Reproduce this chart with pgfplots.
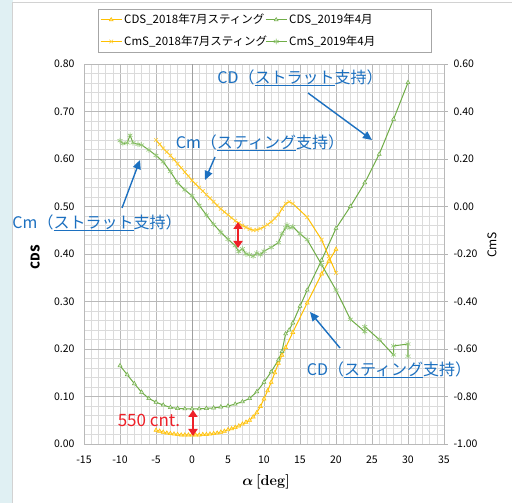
\documentclass[border=0pt]{standalone}
\usepackage{pgfplots}
\pgfplotsset{compat=1.18}
\usepackage{fontspec}
\setmainfont{Noto Sans CJK JP}
\usetikzlibrary{arrows.meta}
\definecolor{cy}{RGB}{255,192,0}
\definecolor{cyl}{RGB}{255,224,130}
\definecolor{cg}{RGB}{112,173,71}
\definecolor{cgl}{RGB}{150,200,120}
\definecolor{cblue}{RGB}{28,112,192}
\definecolor{cred}{RGB}{238,32,40}
\definecolor{bgc}{RGB}{224,240,243}
\newcommand\ul[1]{\setbox0\hbox{#1}\rlap{\raisebox{-3pt}{\rule{\wd0}{1.4pt}}}\box0}

\pgfplotstableread{
x y
-5 0.029
-4.5 0.027
-4 0.025
-3.5 0.023
-3 0.022
-2.5 0.021
-2 0.020
-1.5 0.019
-1 0.019
-0.5 0.019
0 0.019
0.5 0.019
1 0.019
1.5 0.020
2 0.020
2.5 0.021
3 0.022
3.5 0.023
4 0.025
4.5 0.027
5 0.030
5.5 0.032
6 0.035
6.5 0.038
7 0.042
7.5 0.046
8 0.050
8.5 0.057
9 0.066
9.5 0.079
10 0.095
10.5 0.112
11 0.130
11.5 0.150
12 0.170
12.5 0.187
13 0.203
14 0.235
16 0.297
18 0.358
19 0.385
20 0.410
}\cdsA

\pgfplotstableread{
x y
-10 0.165
-9 0.146
-8 0.127
-7 0.109
-6 0.096
-5 0.088
-4 0.082
-3 0.077
-2 0.075
-1 0.074
0 0.074
1 0.074
2 0.075
3 0.076
4 0.078
5 0.080
6 0.084
7 0.089
8 0.096
9 0.110
10 0.130
11 0.152
12 0.177
12.5 0.195
13 0.232
13.5 0.240
14 0.255
15 0.290
16 0.324
18 0.387
20 0.454
22 0.500
24 0.550
26 0.610
28 0.684
30 0.761
}\cdsB

\pgfplotstableread{
x y
-5 0.280
-4.5 0.262
-4 0.245
-3.5 0.230
-3 0.215
-2.5 0.198
-2 0.180
-1.5 0.163
-1 0.145
-0.5 0.128
0 0.110
0.5 0.095
1 0.080
1.5 0.065
2 0.050
2.5 0.035
3 0.020
3.5 0.005
4 -0.010
4.5 -0.023
5 -0.035
5.5 -0.048
6 -0.060
6.5 -0.070
7 -0.080
7.5 -0.088
8 -0.095
8.5 -0.100
9 -0.098
9.5 -0.093
10 -0.085
10.5 -0.076
11 -0.065
11.5 -0.050
12 -0.035
12.5 -0.010
13 0.012
13.5 0.020
14 0.012
16 -0.045
18 -0.140
19 -0.210
20 -0.280
}\cmsA

\pgfplotstableread{
x y
-10 0.277
-9.6 0.265
-9 0.268
-8.6 0.300
-8.2 0.268
-7.5 0.262
-7 0.259
-6 0.238
-5 0.215
-4 0.188
-3 0.147
-2 0.100
-1 0.070
0 0.045
1 0.005
2 -0.036
3 -0.075
4 -0.108
5 -0.138
6 -0.165
6.5 -0.190
7 -0.178
7.5 -0.200
8 -0.203
8.5 -0.210
9 -0.196
9.5 -0.203
10 -0.188
11 -0.172
12 -0.152
12.5 -0.115
13 -0.090
13.2 -0.078
13.6 -0.090
14 -0.085
15 -0.115
16 -0.140
18 -0.245
20 -0.352
22 -0.475
24 -0.527
24 -0.506
26 -0.560
28 -0.625
28 -0.587
30 -0.579
30 -0.630
}\cmsB

\pgfplotsset{
  sA/.style={color=cy, line width=1pt, mark=triangle*, mark size=2.3pt, mark options={fill=cyl, draw=cy, line width=0.5pt}},
  sB/.style={color=cg, line width=1pt, mark=triangle*, mark size=2.3pt, mark options={fill=cgl!40, draw=cg, line width=0.5pt}},
  mA/.style={color=cy, line width=1pt, mark=x, mark size=2.6pt, mark options={draw=cy!80, line width=0.6pt}},
  mB/.style={color=cg, line width=1pt, mark=asterisk, mark size=2.8pt, mark options={draw=cgl, line width=0.6pt}},
  common/.style={at={(84pt,59pt)}, anchor=south west, scale only axis, width=360pt, height=380pt,
    xmin=-15, xmax=35, clip=false,
    ticklabel style={font=\fontsize{10.5}{12}\selectfont, /pgf/number format/assume math mode=true},
  },
}

\begin{document}
\begin{tikzpicture}
\path[use as bounding box] (0pt,0pt) rectangle (512pt,503pt);
\fill[bgc] (0pt,0pt) rectangle (12.7pt,503pt);
\fill[white] (12.7pt,0pt) rectangle (512pt,500.7pt);
\draw[gray!35, line width=0.6pt] (12.7pt,0pt) -- (12.7pt,500.7pt) -- (512pt,500.7pt);

\begin{axis}[common,
  ymin=0, ymax=0.8,
  xtick={-15,-10,-5,0,5,10,15,20,25,30,35},
  ytick={0,0.1,0.2,0.3,0.4,0.5,0.6,0.7,0.8},
  minor x tick num=4, minor y tick num=4,
  grid=both,
  major grid style={color=gray!55, line width=0.6pt},
  minor grid style={color=gray!28, line width=0.5pt},
  axis line style={draw=gray!55},
  tick style={draw=none},
  xticklabel style={yshift=-8pt},
  yticklabel style={xshift=-6pt, /pgf/number format/fixed, /pgf/number format/fixed zerofill, /pgf/number format/precision=2},
  ylabel={\textbf{CDS}},
  ylabel style={at={(axis description cs:-0.136,0.492)}, anchor=center, font=\fontsize{12}{14}\selectfont},
  xlabel={\textbf{\boldmath$\alpha\,[\mathbf{deg}]$}},
  xlabel style={at={(axis description cs:0.506,-0.1)}, anchor=center, font=\fontsize{14.5}{16}\selectfont},
]
\draw[gray!75, line width=0.8pt] (axis cs:0,0) -- (axis cs:0,0.8);
\addplot[sA] table {\cdsA};
\addplot[sB] table {\cdsB};
\end{axis}

\begin{axis}[common,
  ymin=-1, ymax=0.6,
  axis x line=none, axis y line*=right,
  ytick={-1,-0.8,-0.6,-0.4,-0.2,0,0.2,0.4,0.6},
  axis line style={draw=gray!55},
  ytick style={draw=gray!60, line width=0.5pt},
  tick align=outside, major tick length=4pt,
  yticklabel style={xshift=2pt, /pgf/number format/fixed, /pgf/number format/fixed zerofill, /pgf/number format/precision=2},
  ylabel={CmS},
  ylabel style={at={(axis description cs:1.133,0.524)}, anchor=center, font=\fontsize{12}{14}\selectfont},
  legend columns=2,
  legend cell align=left,
  legend style={at={(axis description cs:0.0389,1.1447)}, anchor=north west, draw=gray!70,
     font=\fontsize{11.5}{13.5}\selectfont, inner sep=2pt,
     nodes={text width=138pt, inner ysep=3pt},
     /tikz/every even column/.append style={column sep=1pt}, row sep=4.5pt},
  legend image code/.code={\draw[mark repeat=2,mark phase=2,#1] plot coordinates {(0pt,0pt)(10.5pt,0pt)(21pt,0pt)};},
]
\addlegendimage{sA}
\addlegendentry{CDS\_2018年7月スティング}
\addlegendimage{sB}
\addlegendentry{CDS\_2019年4月}
\addplot[mA] table {\cmsA};
\addlegendentry{CmS\_2018年7月スティング}
\addplot[mB] table {\cmsB};
\addlegendentry{CmS\_2019年4月}
\end{axis}

% annotations
\begin{scope}[cblue, font=\fontsize{16}{18}\selectfont]
\node at (300pt,425pt) {CD（\ul{ストラット}支持）};
\node at (260pt,360pt) {Cm（\ul{スティング}支持）};
\node at (97pt,280pt) {Cm（\ul{ストラット}支持）};
\node at (389pt,133pt) {CD（\ul{スティング}支持）};
\draw[line width=1.4pt, -{Triangle[width=8pt,length=9pt]}] (308pt,410pt) -- (372pt,363pt);
\draw[line width=1.4pt, -{Triangle[width=8pt,length=9pt]}] (215pt,346pt) -- (205pt,323pt);
\draw[line width=1.4pt, -{Triangle[width=8pt,length=9pt]}] (122pt,295pt) -- (140pt,343pt);
\draw[line width=1.4pt, -{Triangle[width=8pt,length=9pt]}] (340pt,155pt) -- (310pt,191pt);
\end{scope}
\node[cred, font=\fontsize{17}{19}\selectfont] at (149pt,83pt) {550 cnt.};
\draw[cred, line width=2.4pt, {Triangle[width=9pt,length=7pt]}-{Triangle[width=9pt,length=7pt]}] (193pt,93pt) -- (193pt,67pt);
\draw[cred, line width=2.4pt, {Triangle[width=9pt,length=7pt]}-{Triangle[width=9pt,length=7pt]}] (238pt,281pt) -- (238pt,255pt);
\end{tikzpicture}
\end{document}
